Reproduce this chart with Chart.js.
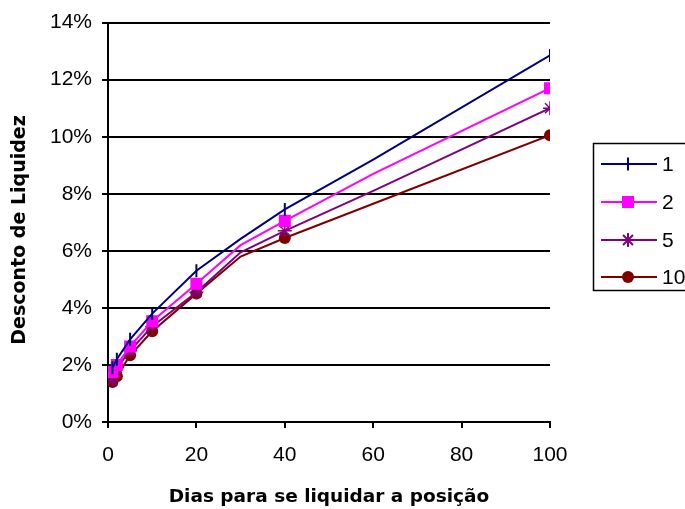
<!DOCTYPE html>
<html lang="pt">
<head>
<meta charset="UTF-8">
<title>Desconto de Liquidez</title>
<script src="https://cdn.jsdelivr.net/npm/chart.js"></script>
<style>
  html, body { margin: 0; padding: 0; background: #fff; }
  #wrap { width: 685px; height: 509px; }
</style>
</head>
<body>
<div id="wrap"><canvas id="myChart" width="685" height="509"></canvas></div>
<script>
// dias para liquidar (eixo x)
const dias = [1, 2, 5, 10, 20, 30, 40, 60, 100];
// desconto de liquidez em %
const serie1  = [1.9, 2.2, 2.9, 3.8, 5.3, 6.42, 7.45, 9.2, 12.85];
const serie2  = [1.75, 2.0, 2.65, 3.53, 4.85, 6.2, 7.05, 8.7, 11.7];
const serie5  = [1.45, 1.9, 2.5, 3.35, 4.55, 5.95, 6.7, 8.1, 11.0];
const serie10 = [1.4, 1.6, 2.34, 3.18, 4.5, 5.8, 6.45, 7.65, 10.05];
const nomes = ['1', '2', '5', '10'];
// so aparecem marcadores nesses pontos
const comMarcador = [true, true, true, true, true, false, true, false, true];

const fonte = 'Arial, "Liberation Sans", sans-serif';
const fonteTitulo = '"DejaVu Sans", Arial, sans-serif';
const tituloY = 'Desconto de Liquidez';

function pontos(valores) {
    return dias.map(function (d, i) { return { x: d, y: valores[i] }; });
}
function raios(r) {
    return comMarcador.map(function (m) { return m ? r : 0; });
}

const datasets = [
    { label: nomes[0], data: pontos(serie1), borderColor: '#000080', backgroundColor: '#000080',
      pointStyle: 'line', rotation: 90, pointRadius: raios(6.5), pointBorderWidth: 2 },
    { label: nomes[1], data: pontos(serie2), borderColor: '#FF00FF', backgroundColor: '#FF00FF',
      pointStyle: 'rect', pointRadius: raios(8.5), pointBorderWidth: 0 },
    { label: nomes[2], data: pontos(serie5), borderColor: '#800080', backgroundColor: '#800080',
      pointStyle: 'star', pointRadius: raios(7), pointBorderWidth: 1.5 },
    { label: nomes[3], data: pontos(serie10), borderColor: '#800000', backgroundColor: '#800000',
      pointStyle: 'circle', pointRadius: raios(6), pointBorderWidth: 0 }
];
datasets.forEach(function (ds) {
    ds.borderWidth = 2;
    ds.tension = 0;
    ds.fill = false;
    ds.pointHoverRadius = ds.pointRadius;
});

// legenda estilo Excel e titulo do eixo y, desenhados a mao
const legendaExcel = {
    id: 'legendaExcel',
    afterDraw: function (chart) {
        const ctx = chart.ctx;
        ctx.save();
        ctx.strokeStyle = '#000';
        ctx.lineWidth = 1.5;
        ctx.strokeRect(593.5, 143.5, 120, 147);
        const ys = [164, 202, 240, 277];
        chart.data.datasets.forEach(function (ds, i) {
            const y = ys[i];
            ctx.strokeStyle = ds.borderColor;
            ctx.lineWidth = 2;
            ctx.beginPath();
            ctx.moveTo(601, y);
            ctx.lineTo(657, y);
            ctx.stroke();
            ctx.fillStyle = ds.backgroundColor;
            Chart.helpers.drawPoint(ctx, {
                pointStyle: ds.pointStyle,
                rotation: ds.rotation || 0,
                radius: Math.max.apply(null, ds.pointRadius),
                borderWidth: ds.pointBorderWidth
            }, 628, y);
            ctx.fillStyle = '#000';
            ctx.font = '21px ' + fonte;
            ctx.textBaseline = 'middle';
            ctx.textAlign = 'left';
            ctx.fillText(ds.label, 662, y + 1);
        });

        ctx.translate(20, 230);
        ctx.rotate(-Math.PI / 2);
        ctx.fillStyle = '#000';
        ctx.font = 'bold 19px ' + fonteTitulo;
        ctx.textAlign = 'center';
        ctx.textBaseline = 'middle';
        ctx.fillText(tituloY, 0, 0);
        ctx.restore();
    }
};

new Chart(document.getElementById('myChart'), {
    type: 'line',
    data: { datasets: datasets },
    plugins: [legendaExcel],
    options: {
        responsive: false,
        animation: false,
        layout: { padding: { top: 20, right: 135, left: 0, bottom: 0 } },
        plugins: { legend: { display: false }, tooltip: { enabled: false } },
        scales: {
            x: {
                type: 'linear', min: 0, max: 100,
                afterFit: function (s) { s.height = 87; },
                ticks: { stepSize: 20, color: '#000', padding: 15, font: { family: fonte, size: 21 } },
                grid: { drawOnChartArea: false, tickLength: 6, color: '#000', lineWidth: 2 },
                border: { color: '#000', width: 2 },
                title: { display: true, text: 'Dias para se liquidar a posição', color: '#000',
                         padding: { top: 0, bottom: 1 },
                         font: { family: fonteTitulo, size: 18.5, weight: 'bold' } }
            },
            y: {
                min: 0, max: 14,
                afterFit: function (s) { s.width = 108; },
                ticks: { stepSize: 2, color: '#000', padding: 10,
                         font: { family: fonte, size: 21 },
                         callback: function (v) { return v + '%'; } },
                grid: { color: '#000', lineWidth: 2, tickLength: 6 },
                border: { color: '#000', width: 2 },
                title: { display: false }
            }
        }
    }
});
</script>
</body>
</html>
